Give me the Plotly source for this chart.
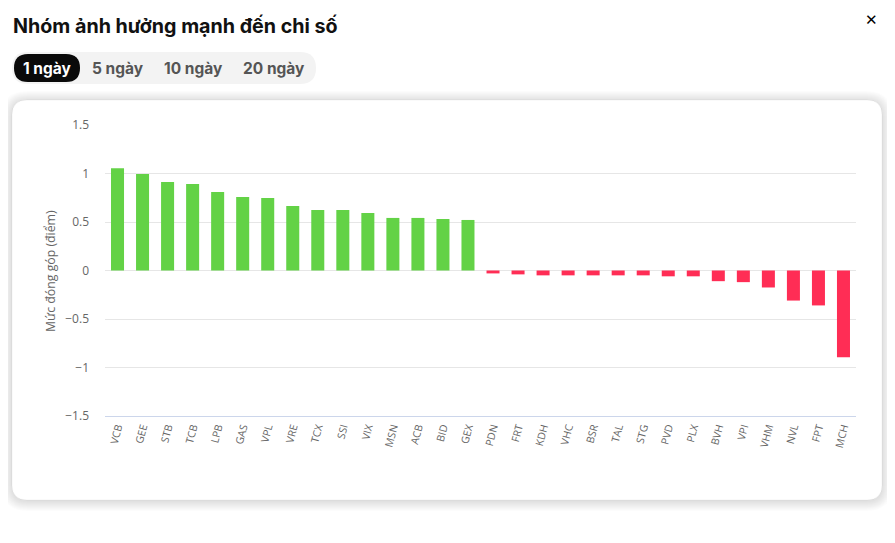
import plotly.graph_objects as go

# ---- data ----
tickers = ["VCB", "GEE", "STB", "TCB", "LPB", "GAS", "VPL", "VRE", "TCX", "SSI",
           "VIX", "MSN", "ACB", "BID", "GEX", "PDN", "FRT", "KDH", "VHC", "BSR",
           "TAL", "STG", "PVD", "PLX", "BVH", "VPI", "VHM", "NVL", "FPT", "MCH"]
contrib = [1.055, 0.994, 0.912, 0.891, 0.809, 0.757, 0.747, 0.665, 0.624, 0.624,
           0.593, 0.542, 0.542, 0.531, 0.521, -0.03, -0.04, -0.05, -0.05, -0.05,
           -0.05, -0.05, -0.06, -0.06, -0.11, -0.12, -0.175, -0.31, -0.36, -0.895]
y_ticks = [-1.5, -1, -0.5, 0, 0.5, 1, 1.5]
tabs = ["1 ngày", "5 ngày", "10 ngày", "20 ngày"]
title_text = "Nhóm ảnh hưởng mạnh đến chi số"
y_title = "Mức đóng góp (điểm)"

GREEN = "#63D246"
RED = "#FF2D55"
colors = [GREEN if v >= 0 else RED for v in contrib]

# page body has an 8px margin; work in screenshot pixels and convert
OFF = 8
FW, FH = 895 - 2 * OFF, 543 - 2 * OFF
PLOT_X0, PLOT_X1, PLOT_Y0, PLOT_Y1 = 105, 856, 125, 416
L = PLOT_X0 - OFF
T = PLOT_Y0 - OFF
R = FW - (PLOT_X1 - OFF)
B = FH - (PLOT_Y1 - OFF)
PW = PLOT_X1 - PLOT_X0
PH = PLOT_Y1 - PLOT_Y0


def px(x):
    return (x - PLOT_X0) / PW


def py(y):
    return (PLOT_Y1 - y) / PH


def rrect(x0, y0, x1, y1, r):
    pts = [
        f"M {px(x0 + r)},{py(y0)}",
        f"L {px(x1 - r)},{py(y0)}",
        f"Q {px(x1)},{py(y0)} {px(x1)},{py(y0 + r)}",
        f"L {px(x1)},{py(y1 - r)}",
        f"Q {px(x1)},{py(y1)} {px(x1 - r)},{py(y1)}",
        f"L {px(x0 + r)},{py(y1)}",
        f"Q {px(x0)},{py(y1)} {px(x0)},{py(y1 - r)}",
        f"L {px(x0)},{py(y0 + r)}",
        f"Q {px(x0)},{py(y0)} {px(x0 + r)},{py(y0)}",
        "Z",
    ]
    return " ".join(pts)


fig = go.Figure()
fig.add_trace(go.Bar(
    x=tickers, y=contrib, marker=dict(color=colors, line=dict(width=0)),
    width=0.52, hoverinfo="x+y", showlegend=False,
))

shapes = []
# card shadow
for i in range(10, 0, -1):
    shapes.append(dict(type="path", xref="paper", yref="paper", layer="below",
                       path=rrect(12 - i, 100 - i + 1, 882 + i, 500 + i + 1, 15 + i),
                       fillcolor="rgba(0,0,0,0.011)", line=dict(width=0)))
shapes.append(dict(type="path", xref="paper", yref="paper", layer="below",
                   path=rrect(12, 100, 882, 500, 15),
                   fillcolor="white", line=dict(color="rgba(0,0,0,0.04)", width=1)))
# tab pills
shapes.append(dict(type="path", xref="paper", yref="paper", layer="below",
                   path=rrect(12, 52, 316, 84, 16), fillcolor="#F3F3F3", line=dict(width=0)))
shapes.append(dict(type="path", xref="paper", yref="paper", layer="below",
                   path=rrect(14, 54, 80, 82, 14), fillcolor="#0A0A0A", line=dict(width=0)))

annotations = [
    dict(x=px(11), y=py(26), xref="paper", yref="paper", text=f"<b>{title_text}</b>",
         showarrow=False, xanchor="left", yanchor="middle",
         font=dict(family="Inter, Roboto, sans-serif", size=19.7, color="#111111")),
    dict(x=px(871), y=py(20), xref="paper", yref="paper", text="<b>✕</b>",
         showarrow=False, xanchor="center", yanchor="middle",
         font=dict(family="DejaVu Sans, sans-serif", size=15, color="#000000")),
]
tab_x = [47, 118, 193, 274]
for i, (t, cx) in enumerate(zip(tabs, tab_x)):
    annotations.append(dict(
        x=px(cx), y=py(68), xref="paper", yref="paper", text=f"<b>{t}</b>",
        showarrow=False, xanchor="center", yanchor="middle",
        font=dict(family="Inter, Roboto, sans-serif", size=15.5,
                  color="#FFFFFF" if i == 0 else "#555555")))
annotations.append(dict(
    x=px(50), y=py(271), xref="paper", yref="paper", text=y_title, textangle=-90,
    showarrow=False, xanchor="center", yanchor="middle",
    font=dict(family="Open Sans, sans-serif", size=12.3, color="#666666")))

fig.update_layout(
    width=FW, height=FH,
    margin=dict(l=L, r=R, t=T, b=B),
    paper_bgcolor="white", plot_bgcolor="rgba(0,0,0,0)",
    shapes=shapes, annotations=annotations,
    bargap=0.48,
    xaxis=dict(
        type="category", showgrid=False, showline=True, linecolor="#CCD6EB", linewidth=1,
        ticks="", tickangle=-75, tickfont=dict(family="Open Sans, sans-serif", size=10.5, color="#666666"),
        fixedrange=True,
    ),
    yaxis=dict(
        range=[-1.5, 1.5], tickvals=y_ticks, ticktext=[("−" + str(abs(v)) if v < 0 else str(v)).replace(".0", "") for v in y_ticks],
        showgrid=True, gridcolor="#E6E6E6", gridwidth=1, zeroline=True, zerolinecolor="#E6E6E6",
        zerolinewidth=1, showline=False, ticks="", ticklabelstandoff=15,
        tickfont=dict(family="Open Sans, sans-serif", size=12, color="#666666"),
        fixedrange=True,
    ),
)

fig.write_html("out.html")
